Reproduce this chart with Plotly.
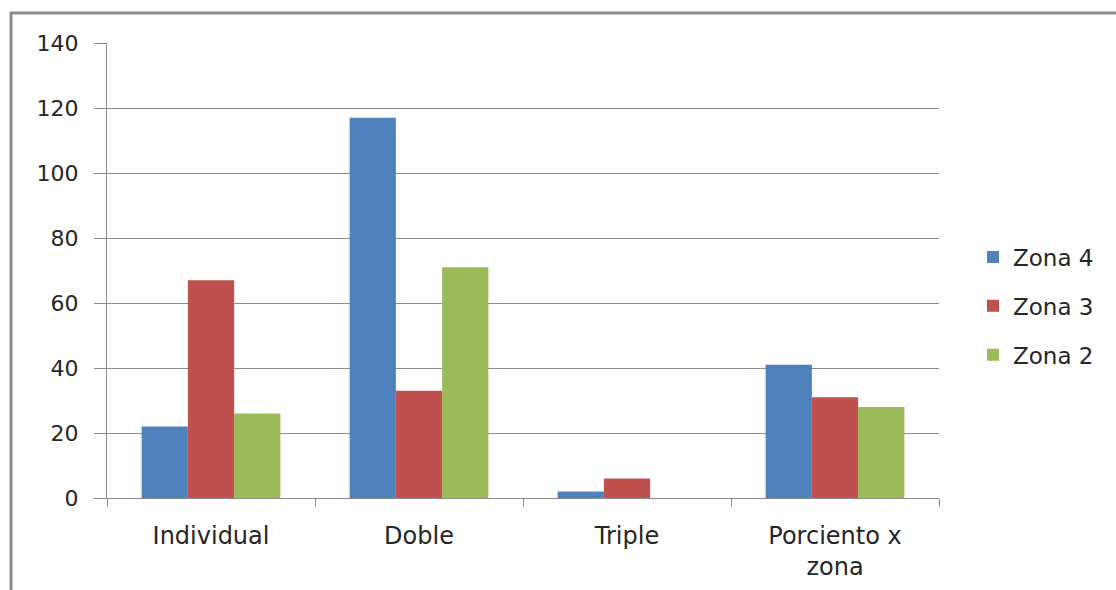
import plotly.graph_objects as go

categories = ["Individual", "Doble", "Triple", "Porciento x<br>zona"]
series_names = ["Zona 4", "Zona 3", "Zona 2"]
zona4 = [22, 117, 2, 41]
zona3 = [67, 33, 6, 31]
zona2 = [26, 71, 0, 28]
colors = ["#4F81BD", "#C0504D", "#9BBB59"]
y_ticks = [0, 20, 40, 60, 80, 100, 120, 140]

W, H = 1116, 590
L, R, T, B = 107, 939, 43, 498

fig = go.Figure()
for name, vals, col in zip(series_names, [zona4, zona3, zona2], colors):
    fig.add_trace(go.Bar(x=categories, y=vals, name=name, marker=dict(color=col, line=dict(width=0)),
                         legendgroup=name))

def px_x(p):
    return (p - L) / (R - L)

def px_y(p):
    return (B - p) / (B - T)

grid = "#8a8a8a"
font_col = "#262626"

fig.update_layout(
    width=W, height=H,
    margin=dict(l=L, r=W - R, t=T, b=H - B, autoexpand=False),
    paper_bgcolor="white", plot_bgcolor="white",
    font=dict(family="DejaVu Sans", size=22, color=font_col),
    barmode="group", bargap=0.333, bargroupgap=0,
    showlegend=True,
    legend=dict(x=px_x(973), xanchor="left", y=px_y(306), yanchor="middle",
                font=dict(size=23, color=font_col), tracegroupgap=16,
                bgcolor="rgba(0,0,0,0)"),
    xaxis=dict(showgrid=False, showline=True, linecolor=grid, linewidth=1,
               ticks="outside", tickson="boundaries", ticklen=8, tickcolor=grid,
               tickfont=dict(size=24, color=font_col), ticklabelstandoff=16),
    yaxis=dict(range=[0, 140], tickvals=y_ticks, showgrid=True, gridcolor=grid, gridwidth=1,
               showline=True, linecolor=grid, linewidth=1, ticks="outside", ticklen=12,
               tickcolor=grid, zeroline=False, tickfont=dict(size=22, color=font_col),
               ticklabelstandoff=11),
    shapes=[
        dict(type="line", xref="paper", yref="paper", x0=px_x(11), x1=px_x(11),
             y0=px_y(13), y1=px_y(600), line=dict(color="#8c8c8c", width=3)),
        dict(type="line", xref="paper", yref="paper", x0=px_x(10), x1=px_x(1120),
             y0=px_y(13), y1=px_y(13), line=dict(color="#8c8c8c", width=3)),
    ],
)

fig.write_html("out.html", config={"displayModeBar": False},
               post_script="document.body.style.margin='0';document.body.style.overflow='hidden';")
